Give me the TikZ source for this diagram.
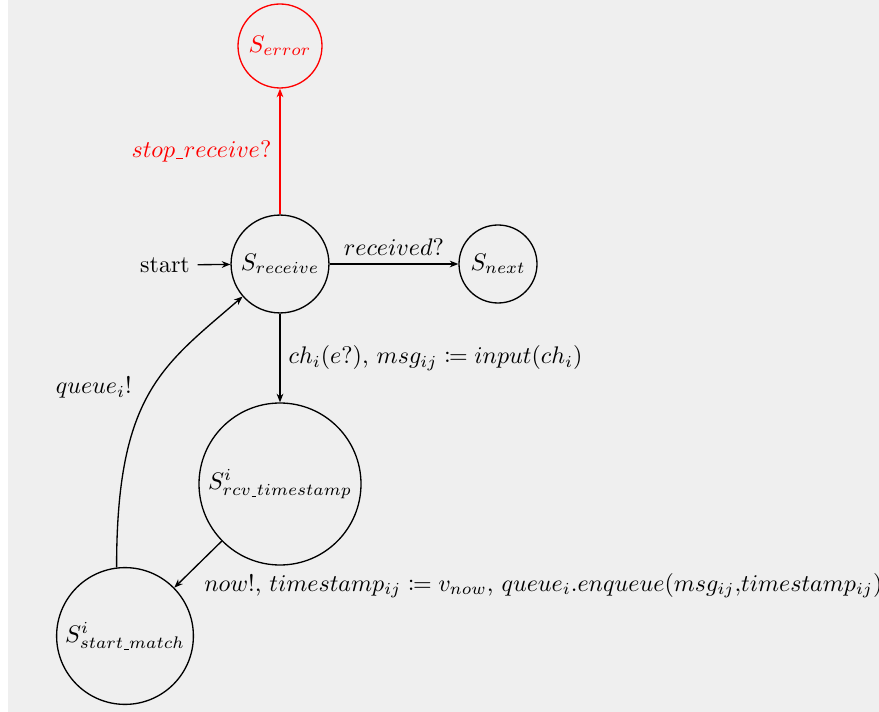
\documentclass[tikz,border=0pt]{standalone}
\usepackage{mathtools}
\usetikzlibrary{arrows.meta}
\definecolor{bggray}{HTML}{EFEFEF}
% short underscore that shrinks with the math style
\newcommand{\usc}{\text{\kern0.04em\rule[-0.06em]{0.28em}{0.045em}\kern0.04em}}
\begin{document}
\begin{tikzpicture}[x=0.4167pt,y=-0.4167pt,
  >={Stealth[length=3.6pt,width=2.8pt]},
  line width=0.55pt,
  state/.style={circle,draw,inner sep=0pt}]
\useasboundingbox (0,0) rectangle (879,712);
\fill[white] (0,0) rectangle (879,712);
\fill[bggray] (8,0) rectangle (879,712);

% states
\node[state,red,minimum size=35pt]   (err) at (280,46)  {$S_{error}$};
\node[state,minimum size=40.8pt]     (rcv) at (280,264) {$S_{receive}$};
\node[state,minimum size=32.5pt]     (nxt) at (498,264) {$S_{next}$};
\node[state,minimum size=67.5pt]     (ts)  at (280,484) {$S^{i}_{rcv\usc timestamp}$};
\node[state,minimum size=57pt]       (sm)  at (125,636) {$S^{i}_{start\usc match}$};
\node[inner sep=3pt] (start) at (165,265) {start};

% transitions
\draw[->] (start) -- (rcv);
\draw[->,red] (rcv) -- node[left] {$stop\usc receive?$} (err);
\draw[->] (rcv) -- node[above] {$received?$} (nxt);
\draw[->] (rcv) -- node[right] {$ch_i(e?)$, $msg_{ij} \coloneqq input(ch_i)$} (ts);
\draw[->] (ts) -- node[below right,xshift=-1pt]
  {$now!$, $timestamp_{ij} \coloneqq v_{now}$, $queue_i.enqueue(msg_{ij}{,}timestamp_{ij})$} (sm);
\draw[->] (sm.97) to[out=90,in=221,out looseness=1.5,in looseness=0.9]
  node[pos=0.52,left=5pt] {$queue_i!$} (rcv);
\end{tikzpicture}
\end{document}
